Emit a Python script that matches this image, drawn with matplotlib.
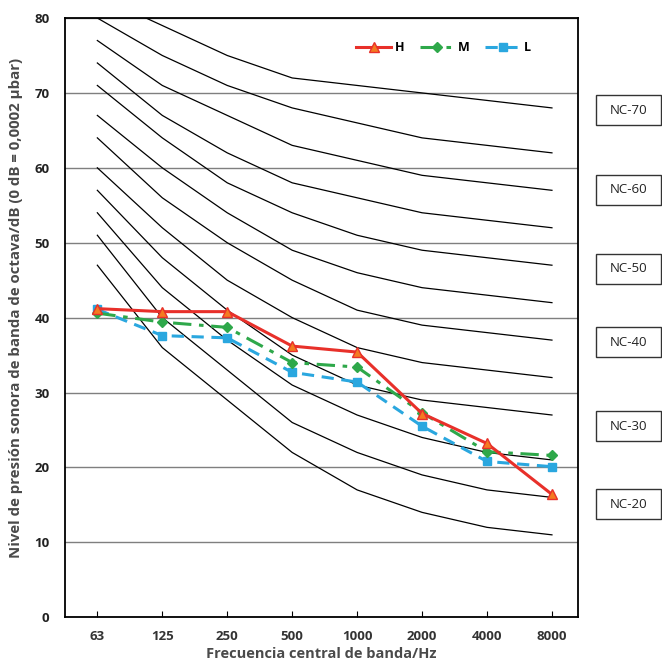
import matplotlib
matplotlib.use('Agg')
import matplotlib.pyplot as plt
from matplotlib.patches import Rectangle
import numpy as np

plt.rcParams['font.family'] = ['Open Sans', 'DejaVu Sans']

freqs = ['63', '125', '250', '500', '1000', '2000', '4000', '8000']

# curvas NC (NC-15 ... NC-70)
nc_curves = {
    'NC-15': [47, 36, 29, 22, 17, 14, 12, 11],
    'NC-20': [51, 40, 33, 26, 22, 19, 17, 16],
    'NC-25': [54, 44, 37, 31, 27, 24, 22, 21],
    'NC-30': [57, 48, 41, 35, 31, 29, 28, 27],
    'NC-35': [60, 52, 45, 40, 36, 34, 33, 32],
    'NC-40': [64, 56, 50, 45, 41, 39, 38, 37],
    'NC-45': [67, 60, 54, 49, 46, 44, 43, 42],
    'NC-50': [71, 64, 58, 54, 51, 49, 48, 47],
    'NC-55': [74, 67, 62, 58, 56, 54, 53, 52],
    'NC-60': [77, 71, 67, 63, 61, 59, 58, 57],
    'NC-65': [80, 75, 71, 68, 66, 64, 63, 62],
    'NC-70': [83, 79, 75, 72, 71, 70, 69, 68],
}

h_vals = [41.2, 40.8, 40.8, 36.2, 35.4, 27.2, 23.2, 16.4]
m_vals = [40.6, 39.4, 38.7, 34.0, 33.4, 27.3, 22.1, 21.6]
l_vals = [41.1, 37.6, 37.3, 32.7, 31.4, 25.5, 20.8, 20.1]

nc_labels = ['NC-70', 'NC-60', 'NC-50', 'NC-40', 'NC-30', 'NC-20']
nc_label_y = [67.7, 57.1, 46.5, 36.7, 25.5, 15.1]

fig = plt.figure(figsize=(6.62, 6.68), dpi=100)
ax = fig.add_axes([0.098, 0.076, 0.775, 0.897])

x = np.arange(len(freqs))

for name, vals in nc_curves.items():
    ax.plot(x, vals, color='black', lw=0.9, zorder=2)

ax.plot(x, h_vals, color='#e8302a', lw=2.2, marker='^', ms=7,
        markerfacecolor='#f47b20', markeredgecolor='#e8302a', label='H', zorder=5)
ax.plot(x, m_vals, color='#2ea84a', lw=2.2, ls=(0, (6, 2.5, 1.5, 2.5)), marker='D', ms=5.5,
        markerfacecolor='#2ea84a', markeredgecolor='#2ea84a', label='M', zorder=4)
ax.plot(x, l_vals, color='#2aa7df', lw=2.2, ls=(0, (4, 2.5)), marker='s', ms=6,
        markerfacecolor='#2aa7df', markeredgecolor='#2aa7df', label='L', zorder=3)

ax.set_xlim(-0.5, 7.4)
ax.set_ylim(0, 80)
ax.set_yticks(range(0, 81, 10))
ax.set_xticks(x)
ax.set_xticklabels(freqs)
ax.yaxis.grid(True, color='#7f7f7f', lw=1.0)
ax.set_axisbelow(True)

for s in ax.spines.values():
    s.set_linewidth(1.3)
    s.set_color('black')

ax.tick_params(axis='x', direction='in', length=4, pad=9, labelsize=9.5, labelcolor='#333333')
ax.tick_params(axis='y', direction='out', length=0, pad=11, labelsize=9.5, labelcolor='#222222')
for lab in ax.get_xticklabels() + ax.get_yticklabels():
    lab.set_fontweight('bold')

ax.set_xlabel('Frecuencia central de banda/Hz', fontsize=10.5, fontweight='bold', color='#4a4a4a', labelpad=3)
ax.set_ylabel('Nivel de presión sonora de banda de octava/dB (0 dB = 0,0002 µbar)',
              fontsize=10.8, fontweight='bold', color='#4a4a4a')
ax.yaxis.set_label_coords(-0.082, 0.517)

leg = ax.legend(loc='upper right', bbox_to_anchor=(0.93, 0.98), ncol=3, frameon=False,
                fontsize=9, handlelength=2.8, columnspacing=1.2, handletextpad=0.3)
for t in leg.get_texts():
    t.set_fontweight('bold')

# recuadros NC fuera del area del grafico
box_w, box_h = 0.127, 0.05
for lab, yv in zip(nc_labels, nc_label_y):
    yc = yv / 80.0
    ax.add_patch(Rectangle((1.035, yc - box_h / 2), box_w, box_h, transform=ax.transAxes,
                           facecolor='white', edgecolor='#333333', lw=1.0, clip_on=False))
    ax.text(1.035 + box_w / 2, yc, lab, transform=ax.transAxes, ha='center', va='center',
            fontsize=9.5, color='#222222', clip_on=False)

fig.savefig('out.png', dpi=100)
